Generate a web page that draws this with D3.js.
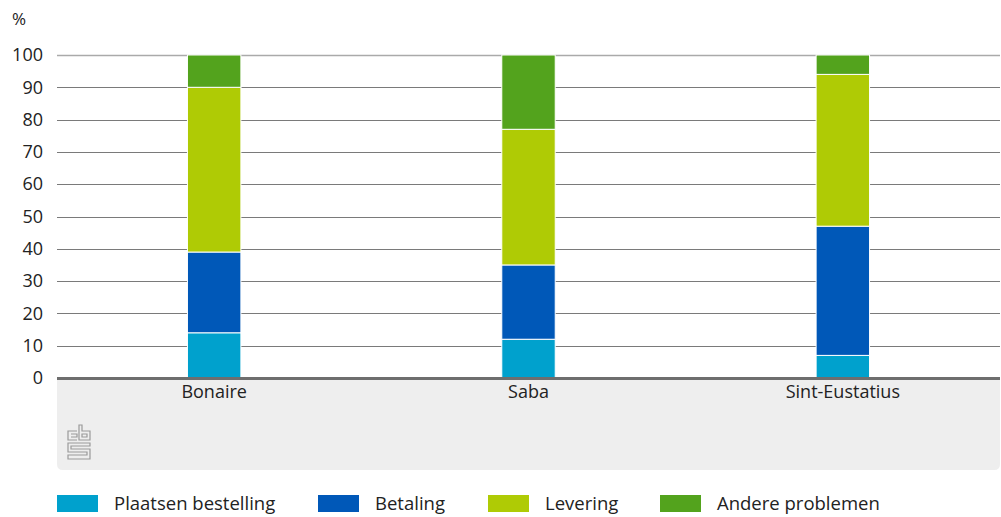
<!DOCTYPE html>
<html><head><meta charset="utf-8">
<script src="https://cdn.jsdelivr.net/npm/d3@7"></script>
<style>
body{margin:0;background:#fff;}
svg{display:block;font-family:"Open Sans","Noto Sans",sans-serif;}
</style></head>
<body>
<svg id="chart" width="1001" height="517"></svg>
<script>
const categories = ["Bonaire", "Saba", "Sint-Eustatius"];
const seriesNames = ["Plaatsen bestelling", "Betaling", "Levering", "Andere problemen"];
const plaatsen = [14, 12, 7];
const betaling = [25, 23, 40];
const levering = [51, 42, 47];
const andere = [10, 23, 6];
const yTicks = [0, 10, 20, 30, 40, 50, 60, 70, 80, 90, 100];
const colors = ["#00a1cd", "#0058b8", "#afcb05", "#53a31d"];

(function () {
const seriesValues = [plaatsen, betaling, levering, andere];
const rows = categories.map((c, i) => {
  const r = {cat: c};
  seriesNames.forEach((s, j) => r[s] = seriesValues[j][i]);
  return r;
});

const svg = d3.select("#chart");
const pLeft = 57, pRight = 1000, pTop = 55, pBottom = 378;
const FONT = '"Open Sans","Noto Sans",sans-serif';

const x = d3.scaleBand().domain(categories).range([pLeft, pRight]).paddingInner(0.83).paddingOuter(0.415);
const y = d3.scaleLinear().domain([0, 100]).range([pBottom, pTop]);

// bottom panel
const panelTop = pBottom + 2, panelBottom = 470, r = 6;
svg.append("path")
  .attr("d", `M${pLeft},${panelTop} H${pRight} V${panelBottom - r} Q${pRight},${panelBottom} ${pRight - r},${panelBottom} H${pLeft + r} Q${pLeft},${panelBottom} ${pLeft},${panelBottom - r} Z`)
  .attr("fill", "#eeeeee");

// grid lines
svg.append("g").selectAll("line").data(yTicks.filter(d => d > 0)).join("line")
  .attr("x1", pLeft).attr("x2", pRight)
  .attr("y1", d => Math.round(y(d)) + 0.5).attr("y2", d => Math.round(y(d)) + 0.5)
  .attr("stroke", d => d === 100 ? "#aaaaaa" : "#7a7a7a")
  .attr("stroke-width", d => d === 100 ? 1.5 : 1);

// y axis labels
const yAxis = d3.axisLeft(y).tickValues(yTicks).tickSize(0).tickPadding(0);
const ya = svg.append("g").attr("transform", `translate(43,0)`).call(yAxis);
ya.select(".domain").remove();
ya.selectAll("text").attr("font-size", 18).attr("fill", "#222").attr("font-family", FONT);

svg.append("text").attr("x", 12).attr("y", 25).attr("font-size", 17).attr("fill", "#222").attr("font-family", FONT).text("%");

// stacked bars
const stack = d3.stack().keys(seriesNames)(rows);
svg.append("g").selectAll("g").data(stack).join("g")
  .attr("fill", (d, i) => colors[i])
  .selectAll("rect").data(d => d).join("rect")
  .attr("x", d => x(d.data.cat))
  .attr("width", x.bandwidth())
  .attr("y", d => y(d[1]))
  .attr("height", d => y(d[0]) - y(d[1]))
  .attr("stroke", "#ffffff").attr("stroke-width", 1);

// baseline
svg.append("line").attr("x1", pLeft).attr("x2", pRight)
  .attr("y1", pBottom + 0.5).attr("y2", pBottom + 0.5)
  .attr("stroke", "#6e6e6e").attr("stroke-width", 3);

// x axis labels
const xAxis = d3.axisBottom(x).tickSize(0).tickPadding(0);
const xa = svg.append("g").attr("transform", `translate(0,${pBottom + 7})`).call(xAxis);
xa.select(".domain").remove();
xa.selectAll("text").attr("font-size", 18).attr("fill", "#222").attr("dy", "0.71em").attr("font-family", FONT);

// cbs logo
const logo = svg.append("g").attr("fill", "none").attr("stroke", "#9a9a9a").attr("stroke-width", 1.2);
logo.append("path").attr("d", "M77,431 H68 V440 H77 M71,434 H77 V437 H71");
logo.append("path").attr("d", "M79,425 V440 H90 V431 H82 V425 Z M82,434 H87 V437 H82 Z");
logo.append("path").attr("d", "M90,443 H68 V452 H87 V455 H68 V459 H90 V449 H71 V446 H90 Z");

// legend
const legendX = [57, 318, 488, 660];
const lg = svg.append("g").selectAll("g").data(seriesNames).join("g")
  .attr("transform", (d, i) => `translate(${legendX[i]},495)`);
lg.append("rect").attr("width", 41).attr("height", 17).attr("fill", (d, i) => colors[i]);
lg.append("text").attr("x", 57).attr("y", 15).attr("font-size", 18.5).attr("fill", "#222").attr("font-family", FONT).text(d => d);
})();
</script>
</body></html>
